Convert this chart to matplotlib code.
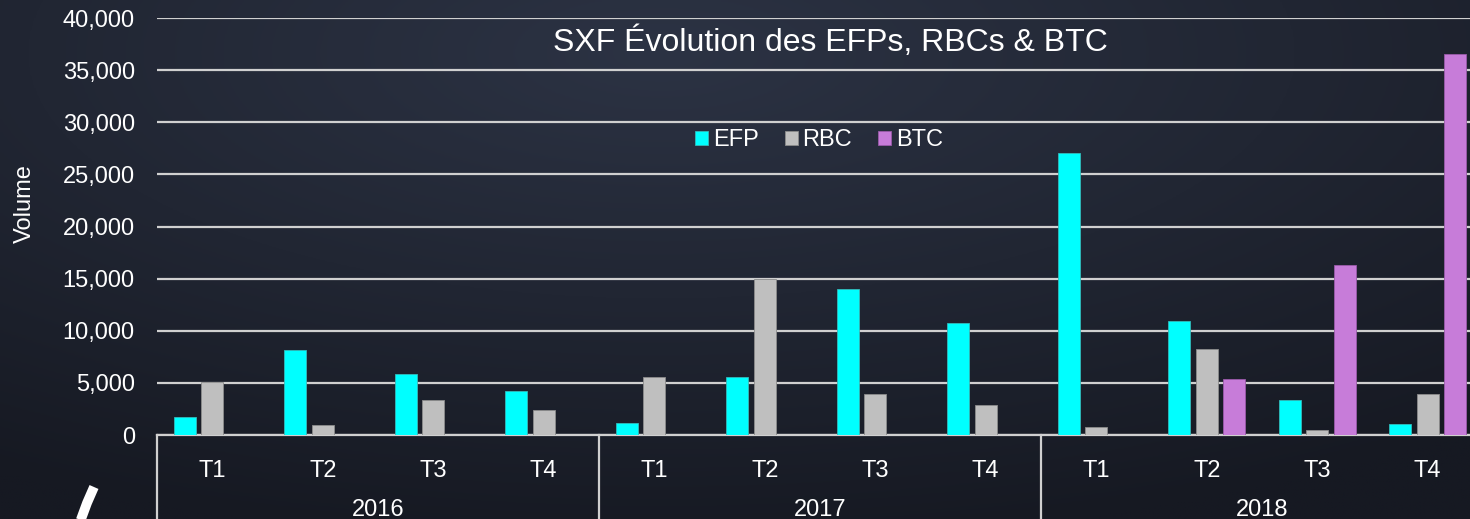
import numpy as np
import matplotlib
matplotlib.use("Agg")
import matplotlib.pyplot as plt
from matplotlib.transforms import blended_transform_factory

plt.rcParams["font.family"] = ["Liberation Sans", "DejaVu Sans"]

years = ["2016", "2017", "2018"]
quarters = ["T1", "T2", "T3", "T4"]
efp = [1700, 8150, 5850, 4200, 1150, 5550, 14000, 10700, 27050, 10900, 3350, 1050]
rbc = [5100, 1000, 3350, 2400, 5550, 15000, 3950, 2850, 800, 8250, 480, 3930]
btc = [0, 0, 0, 0, 0, 0, 0, 0, 0, 5400, 16300, 36550]

W, H = 1470, 519
fig = plt.figure(figsize=(W / 100, H / 100), dpi=100)

# fond sombre en degrade
bg = fig.add_axes([0, 0, 1, 1])
yy, xx = np.mgrid[0:1:200j, 0:1:400j]
d = np.sqrt(((xx - 0.45) * 1.1) ** 2 + ((yy - 0.1) * 1.0) ** 2)
t = np.clip(d / 0.95, 0, 1)
c0 = np.array([0x2c, 0x33, 0x44]) / 255
c1 = np.array([0x16, 0x19, 0x22]) / 255
img = c0[None, None, :] * (1 - t[..., None]) + c1[None, None, :] * t[..., None]
bg.imshow(img, aspect="auto", extent=[0, 1, 0, 1], origin="upper")
bg.set_xlim(0, 1)
bg.set_ylim(0, 1)
bg.axis("off")
# petit trait blanc (logo) en bas a gauche
bg.plot([94 / W, 87 / W, 80 / W], [1 - 487 / H, 1 - 503 / H, 1 - 522 / H],
        color="white", lw=7, solid_capstyle="butt")

left, right = 157 / W, 1483 / W
bottom, top = (H - 435) / H, (H - 18) / H
ax = fig.add_axes([left, bottom, right - left, top - bottom])
ax.set_facecolor("none")

x = np.arange(len(efp))
bw = 0.2
ax.bar(x - 0.25, efp, bw, color="#00FFFF", edgecolor="#33bbbb", lw=0.6, label="EFP", zorder=3)
ax.bar(x, rbc, bw, color="#BFBFBF", edgecolor="#8c8c8c", lw=0.6, label="RBC", zorder=3)
ax.bar(x + 0.25, btc, bw, color="#C77CD9", edgecolor="#9a5aaa", lw=0.6, label="BTC", zorder=3)

fs = 17
ax.set_xlim(-0.5, 11.5)
ax.set_ylim(0, 40000)
ax.set_yticks(range(0, 40001, 5000))
ax.set_yticklabels([f"{v:,}" for v in range(0, 40001, 5000)])
ax.yaxis.grid(True, color="#d0d0d0", lw=1.6, zorder=0)
ax.set_axisbelow(True)
for s in ["top", "right", "left"]:
    ax.spines[s].set_visible(False)
ax.spines["bottom"].set_color("#d0d0d0")
ax.spines["bottom"].set_linewidth(1.6)
ax.tick_params(axis="y", length=0, pad=16, labelsize=fs, labelcolor="white")
ax.tick_params(axis="x", length=0, pad=18, labelsize=fs, labelcolor="white")
ax.set_xticks(x)
ax.set_xticklabels(quarters * 3)
ax.set_ylabel("Volume", color="white", fontsize=fs)
ax.yaxis.set_label_coords(-0.091, 0.556)

tr = blended_transform_factory(ax.transData, ax.transAxes)
for i, yr in enumerate(years):
    ax.text(i * 4 + 1.5, -0.18, yr, transform=tr, ha="center", va="center",
            color="white", fontsize=fs)
for xs in [-0.5, 3.5, 7.5]:
    ax.plot([xs, xs], [0, -0.25], transform=tr, color="#d0d0d0", lw=1.6, clip_on=False)

ax.text(830, H - 42, "SXF Évolution des EFPs, RBCs & BTC", transform=None,
        ha="center", va="center", color="white", fontsize=23)

leg = ax.legend(loc="center", bbox_to_anchor=(819 / W, 1 - 140 / H),
                bbox_transform=fig.transFigure, ncol=3, frameon=False,
                fontsize=fs, handlelength=0.55, handleheight=0.55,
                handletextpad=0.2, columnspacing=1.1, labelcolor="white")

fig.savefig("out.png", dpi=100)
